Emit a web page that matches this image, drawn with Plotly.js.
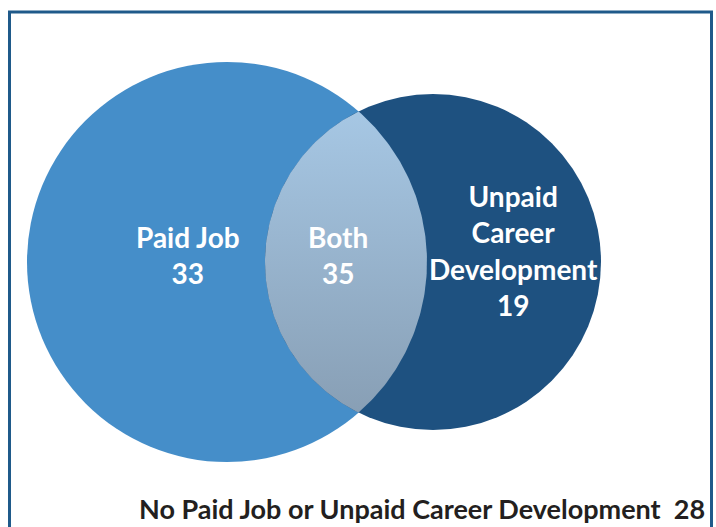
<!DOCTYPE html>
<html>
<head>
<meta charset="utf-8">
<script src="https://cdn.plot.ly/plotly-3.0.1.min.js"></script>
<style>
  html, body { margin: 0; padding: 0; background: #ffffff; }
  #chart { width: 716px; height: 527px; }
</style>
</head>
<body>
<div id="chart"></div>
<script>
// ---- data ----
var setNames = ["Paid Job", "Both", "Unpaid<br>Career<br>Development"];
var setValues = [33, 35, 19];
var outsideName = "No Paid Job or Unpaid Career Development";
var outsideValue = 28;

// ---- geometry / style (layout, pixel-space axes) ----
var FONT = "Lato, 'Liberation Sans Narrow', sans-serif";
var leftC = {cx: 227, cy: 262, r: 200, color: "#458ec9"};
var rightC = {cx: 433, cy: 262, r: 168, color: "#1e5180"};
var labelPos = [{x: 188, y: 255}, {x: 338, y: 255}, {x: 513, y: 250}];

// lens (intersection) outline computed from the two circles
function lensPath(c1, c2, n) {
  var d = c2.cx - c1.cx;
  var a = (d * d + c1.r * c1.r - c2.r * c2.r) / (2 * d);
  var h = Math.sqrt(c1.r * c1.r - a * a);
  var ix = c1.cx + a, yTop = c1.cy - h, yBot = c1.cy + h;
  var xs = [], ys = [];
  var t0 = Math.atan2(yTop - c2.cy, ix - c2.cx), t1 = Math.atan2(yBot - c2.cy, ix - c2.cx);
  if (t0 < 0) t0 += 2 * Math.PI;
  if (t1 < 0) t1 += 2 * Math.PI;
  for (var i = 0; i <= n; i++) {
    var t = t0 + (t1 - t0) * i / n;
    xs.push(c2.cx + c2.r * Math.cos(t)); ys.push(c2.cy + c2.r * Math.sin(t));
  }
  var s0 = Math.atan2(yBot - c1.cy, ix - c1.cx), s1 = Math.atan2(yTop - c1.cy, ix - c1.cx);
  for (var j = 0; j <= n; j++) {
    var s = s0 + (s1 - s0) * j / n;
    xs.push(c1.cx + c1.r * Math.cos(s)); ys.push(c1.cy + c1.r * Math.sin(s));
  }
  return {x: xs, y: ys, top: yTop, bot: yBot};
}
var lens = lensPath(leftC, rightC, 120);

var traces = [{
  type: "scatter", mode: "lines", x: lens.x, y: lens.y,
  fill: "toself", line: {width: 0, color: "rgba(0,0,0,0)"},
  fillgradient: {type: "vertical", start: lens.top, stop: lens.bot,
    colorscale: [[0, "#a6c7e4"], [1, "#889fb5"]]},
  hoverinfo: "skip", showlegend: false
}];

var shapes = [
  {type: "circle", xref: "x", yref: "y", layer: "below",
   x0: leftC.cx - leftC.r, x1: leftC.cx + leftC.r, y0: leftC.cy - leftC.r, y1: leftC.cy + leftC.r,
   fillcolor: leftC.color, line: {width: 0}},
  {type: "circle", xref: "x", yref: "y", layer: "below",
   x0: rightC.cx - rightC.r, x1: rightC.cx + rightC.r, y0: rightC.cy - rightC.r, y1: rightC.cy + rightC.r,
   fillcolor: rightC.color, line: {width: 0}},
  {type: "rect", xref: "x", yref: "y", layer: "above",
   x0: 9.5, x1: 711.5, y0: 12, y1: 560, fillcolor: "rgba(0,0,0,0)",
   line: {color: "#1f5a8a", width: 3}}
];

var annotations = setNames.map(function (nm, i) {
  return {x: labelPos[i].x, y: labelPos[i].y, xref: "x", yref: "y",
    text: "<b>" + nm + "<br>" + setValues[i] + "</b>", showarrow: false,
    xanchor: "center", yanchor: "middle", align: "center",
    font: {family: FONT, size: 28, color: "#ffffff"}};
});
annotations.push({x: 707, y: 508, xref: "x", yref: "y",
  text: "<b>" + outsideName + "&nbsp;&nbsp;" + outsideValue + "</b>", showarrow: false,
  xanchor: "right", yanchor: "middle",
  font: {family: FONT, size: 27, color: "#231f20"}});

var layout = {
  width: 716, height: 527,
  margin: {l: 0, r: 0, t: 0, b: 0},
  paper_bgcolor: "#ffffff", plot_bgcolor: "#ffffff",
  xaxis: {range: [0, 716], visible: false, fixedrange: true},
  yaxis: {range: [527, 0], visible: false, fixedrange: true},
  shapes: shapes, annotations: annotations, showlegend: false
};

Plotly.newPlot("chart", traces, layout, {displayModeBar: false, staticPlot: true});
</script>
</body>
</html>
